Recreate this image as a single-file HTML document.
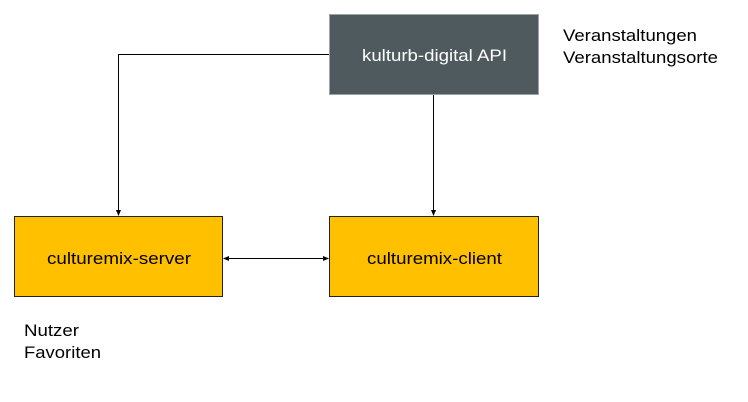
<!DOCTYPE html>
<html><head><meta charset="utf-8"><style>
body{margin:0;width:748px;height:402px;background:#fff;overflow:hidden}
svg{display:block}
text{font-family:"Liberation Sans",Arial,sans-serif;font-size:17px}
</style></head><body>
<svg width="748" height="402" viewBox="0 0 748 402">
<defs><marker id="a" markerWidth="6" markerHeight="6" refX="5" refY="3" orient="auto" markerUnits="userSpaceOnUse"><path d="M0,0.5 L6,3 L0,5.5 z" fill="#000"/></marker>
<marker id="b" markerWidth="6" markerHeight="6" refX="1" refY="3" orient="auto" markerUnits="userSpaceOnUse"><path d="M6,0.5 L0,3 L6,5.5 z" fill="#000"/></marker></defs>
<rect x="329.5" y="14.5" width="209" height="80" fill="#4e5a5e" stroke="#9aa3a5" stroke-width="1"/>
<text x="362" y="61" fill="#fff" textLength="145" lengthAdjust="spacingAndGlyphs">kulturb-digital API</text>
<rect x="14.5" y="216.5" width="208" height="80" fill="#ffc000" stroke="#222" stroke-width="1"/>
<text x="47" y="264" textLength="144" lengthAdjust="spacingAndGlyphs">culturemix-server</text>
<rect x="329.5" y="216.5" width="209" height="80" fill="#ffc000" stroke="#222" stroke-width="1"/>
<text x="367" y="264" textLength="135" lengthAdjust="spacingAndGlyphs">culturemix-client</text>
<polyline points="329,54.5 118.5,54.5 118.5,215" fill="none" stroke="#000" stroke-width="1" marker-end="url(#a)"/>
<line x1="433.5" y1="95" x2="433.5" y2="215" stroke="#000" stroke-width="1" marker-end="url(#a)"/>
<line x1="224" y1="258.5" x2="328" y2="258.5" stroke="#000" stroke-width="1" marker-start="url(#b)" marker-end="url(#a)"/>
<text x="563" y="41" textLength="134" lengthAdjust="spacingAndGlyphs">Veranstaltungen</text>
<text x="563" y="63" textLength="155" lengthAdjust="spacingAndGlyphs">Veranstaltungsorte</text>
<text x="24" y="336" textLength="55" lengthAdjust="spacingAndGlyphs">Nutzer</text>
<text x="24" y="358" textLength="77" lengthAdjust="spacingAndGlyphs">Favoriten</text>
</svg>
</body></html>
